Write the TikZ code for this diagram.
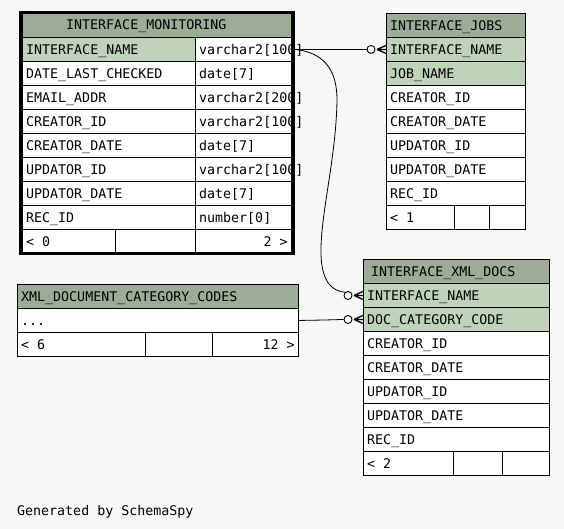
\documentclass[tikz,border=0pt]{standalone}
\usepackage{fontspec}
\setmonofont{DejaVu Sans Mono}
\definecolor{bgc}{HTML}{F7F7F7}
\definecolor{hdr}{HTML}{9CAC97}
\definecolor{keyc}{HTML}{BFD2BA}
\tikzset{
 cellbox/.style={draw=black, line width=0.9pt, rectangle, inner sep=0pt, minimum height=24pt, anchor=north west, fill=white},
 hdrbox/.style={cellbox, fill=hdr},
 keybox/.style={cellbox, fill=keyc},
 txt/.style={inner sep=0pt, font=\ttfamily\fontsize{13.3}{15}\selectfont, anchor=base west},
 rtxt/.style={txt, anchor=base east},
 conn/.style={draw=black, line width=0.8pt},
 crow/.style={draw=black, line width=1.3pt},
 ring/.style={draw=black, line width=0.9pt, fill=bgc, circle, inner sep=0pt, minimum size=8pt},
 thickframe/.style={draw=black, line width=3.5pt}
}
\newcommand\tcell[6]{\node[#5, minimum width=#4pt] (#1) at (#2,#3) {};
 \node[txt] (#1-t) at ([xshift=4pt,yshift=-5pt]#1.west) {#6};}
\newcommand\rcell[6]{\node[#5, minimum width=#4pt] (#1) at (#2,#3) {};
 \node[rtxt] (#1-t) at ([xshift=-4pt,yshift=-5pt]#1.east) {#6};}
\newcommand\crowfoot[2]{\node[ring] (#2) at ([xshift=-15pt]#1.west) {};
 \draw[crow] ([xshift=-9pt]#1.west) -- ([yshift=4pt]#1.west)
   ([xshift=-9pt]#1.west) -- (#1.west)
   ([xshift=-9pt]#1.west) -- ([yshift=-4pt]#1.west);}
\begin{document}
\begin{tikzpicture}[x=1pt,y=-1pt]
\fill[bgc] (0,0) rectangle (564,529);
\useasboundingbox (0,0) rectangle (564,529);

% INTERFACE_MONITORING
\node[hdrbox, minimum width=269pt] (im-h) at (22,13) {};
\node[txt] (im-h-t) at (66,30) {INTERFACE\_MONITORING};
\tcell{im-n1}{22}{37}{173}{keybox}{INTERFACE\_NAME}
\tcell{im-t1}{195}{37}{96}{cellbox}{varchar2[100]}
\tcell{im-n2}{22}{61}{173}{cellbox}{DATE\_LAST\_CHECKED}
\tcell{im-t2}{195}{61}{96}{cellbox}{date[7]}
\tcell{im-n3}{22}{85}{173}{cellbox}{EMAIL\_ADDR}
\tcell{im-t3}{195}{85}{96}{cellbox}{varchar2[200]}
\tcell{im-n4}{22}{109}{173}{cellbox}{CREATOR\_ID}
\tcell{im-t4}{195}{109}{96}{cellbox}{varchar2[100]}
\tcell{im-n5}{22}{133}{173}{cellbox}{CREATOR\_DATE}
\tcell{im-t5}{195}{133}{96}{cellbox}{date[7]}
\tcell{im-n6}{22}{157}{173}{cellbox}{UPDATOR\_ID}
\tcell{im-t6}{195}{157}{96}{cellbox}{varchar2[100]}
\tcell{im-n7}{22}{181}{173}{cellbox}{UPDATOR\_DATE}
\tcell{im-t7}{195}{181}{96}{cellbox}{date[7]}
\tcell{im-n8}{22}{205}{173}{cellbox}{REC\_ID}
\tcell{im-t8}{195}{205}{96}{cellbox}{number[0]}
\tcell{im-f1}{22}{229}{93}{cellbox}{< 0}
\node[cellbox, minimum width=80pt] (im-f2) at (115,229) {};
\rcell{im-f3}{195}{229}{96}{cellbox}{2 >}
\draw[thickframe] (20.5,12.5) rectangle (293,253.5);

% INTERFACE_JOBS
\tcell{ij-h}{386}{13}{139}{hdrbox}{INTERFACE\_JOBS}
\tcell{ij-r1}{386}{37}{139}{keybox}{INTERFACE\_NAME}
\tcell{ij-r2}{386}{61}{139}{keybox}{JOB\_NAME}
\tcell{ij-r3}{386}{85}{139}{cellbox}{CREATOR\_ID}
\tcell{ij-r4}{386}{109}{139}{cellbox}{CREATOR\_DATE}
\tcell{ij-r5}{386}{133}{139}{cellbox}{UPDATOR\_ID}
\tcell{ij-r6}{386}{157}{139}{cellbox}{UPDATOR\_DATE}
\tcell{ij-r7}{386}{181}{139}{cellbox}{REC\_ID}
\tcell{ij-f1}{386}{205}{68}{cellbox}{< 1}
\node[cellbox, minimum width=35pt] (ij-f2) at (454,205) {};
\node[cellbox, minimum width=36pt] (ij-f3) at (489,205) {};

% XML_DOCUMENT_CATEGORY_CODES
\tcell{xc-h}{17}{284}{281}{hdrbox}{XML\_DOCUMENT\_CATEGORY\_CODES}
\tcell{xc-r1}{17}{308}{281}{cellbox}{...}
\tcell{xc-f1}{17}{332}{128}{cellbox}{< 6}
\node[cellbox, minimum width=67pt] (xc-f2) at (145,332) {};
\rcell{xc-f3}{212}{332}{86}{cellbox}{12 >}

% INTERFACE_XML_DOCS
\node[hdrbox, minimum width=186pt] (xd-h) at (363,259) {};
\node[txt] (xd-h-t) at (371,276) {INTERFACE\_XML\_DOCS};
\tcell{xd-r1}{363}{283}{186}{keybox}{INTERFACE\_NAME}
\tcell{xd-r2}{363}{307}{186}{keybox}{DOC\_CATEGORY\_CODE}
\tcell{xd-r3}{363}{331}{186}{cellbox}{CREATOR\_ID}
\tcell{xd-r4}{363}{355}{186}{cellbox}{CREATOR\_DATE}
\tcell{xd-r5}{363}{379}{186}{cellbox}{UPDATOR\_ID}
\tcell{xd-r6}{363}{403}{186}{cellbox}{UPDATOR\_DATE}
\tcell{xd-r7}{363}{427}{186}{cellbox}{REC\_ID}
\tcell{xd-f1}{363}{451}{90}{cellbox}{< 2}
\node[cellbox, minimum width=49pt] (xd-f2) at (453,451) {};
\node[cellbox, minimum width=47pt] (xd-f3) at (502,451) {};

% connectors
\crowfoot{ij-r1}{ij-ring}
\crowfoot{xd-r1}{xd-ring1}
\crowfoot{xd-r2}{xd-ring2}
\draw[conn] (im-t1.east) -- (ij-ring.west);
\draw[conn] (im-t1.east) -- (300,50) .. controls (326,55) and (337,72) .. (337,100)
  .. controls (336,160) and (320,215) .. (321,255)
  .. controls (322,282) and (332,291) .. (xd-ring1.north west);
\draw[conn] (xc-r1.east) -- (325,320) -- (xd-ring2.west);

\node[txt] (gen) at (17,515) {Generated by SchemaSpy};
\end{tikzpicture}
\end{document}
